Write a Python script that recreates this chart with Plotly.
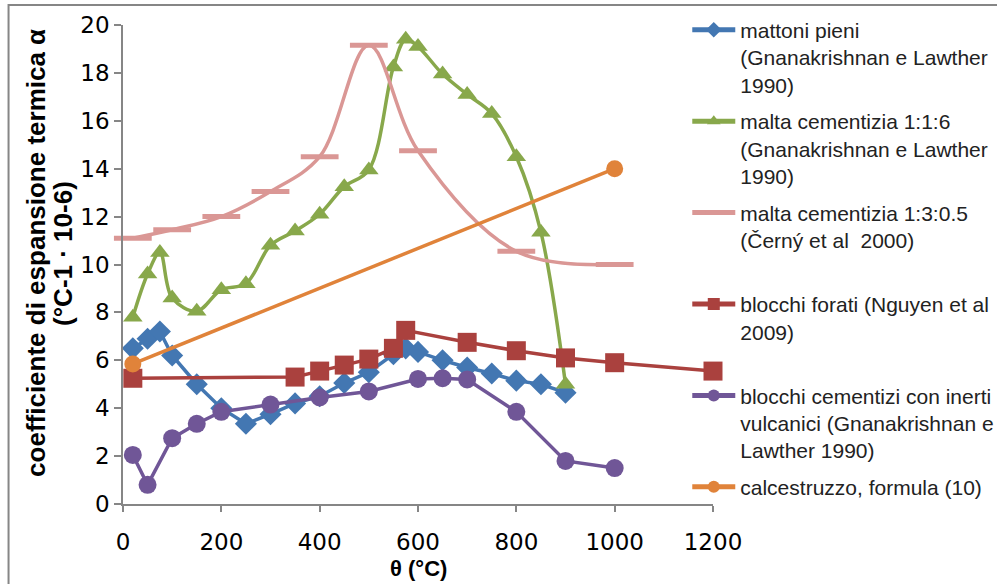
import plotly.graph_objects as go

# Temperature θ (°C) and thermal expansion coefficient α (°C-1 · 10-6)
mattoni_t = [20, 50, 75, 100, 150, 200, 250, 300, 350, 400, 450, 500, 550, 575,
             600, 650, 700, 750, 800, 850, 900]
mattoni_a = [6.5, 6.9, 7.2, 6.2, 5.0, 4.0, 3.35, 3.75, 4.2, 4.5, 5.05, 5.5, 6.25, 6.5,
             6.35, 6.0, 5.7, 5.45, 5.15, 5.0, 4.65]

malta116_t = [20, 50, 75, 100, 150, 200, 250, 300, 350, 400, 450, 500, 550, 575,
              600, 650, 700, 750, 800, 850, 900]
malta116_a = [7.8, 9.6, 10.5, 8.6, 8.05, 8.95, 9.2, 10.8, 11.4, 12.1, 13.25, 13.95, 18.25, 19.4,
              19.1, 17.95, 17.1, 16.3, 14.5, 11.35, 5.0]

malta135_t = [20, 100, 200, 300, 400, 500, 600, 800, 1000]
malta135_a = [11.1, 11.45, 12.0, 13.05, 14.5, 19.15, 14.75, 10.55, 10.0]

forati_t = [20, 350, 400, 450, 500, 550, 575, 700, 800, 900, 1000, 1200]
forati_a = [5.25, 5.3, 5.55, 5.8, 6.05, 6.5, 7.25, 6.75, 6.4, 6.1, 5.9, 5.55]

cementizi_t = [20, 50, 100, 150, 200, 300, 400, 500, 600, 650, 700, 800, 900, 1000]
cementizi_a = [2.05, 0.8, 2.75, 3.35, 3.85, 4.15, 4.45, 4.7, 5.22, 5.25, 5.2, 3.85, 1.8, 1.5]

cls_t = [20, 1000]
cls_a = [5.85, 14.0]

labels = [
    "mattoni pieni<br>(Gnanakrishnan e Lawther<br>1990)",
    "malta cementizia 1:1:6<br>(Gnanakrishnan e Lawther<br>1990)",
    "malta cementizia 1:3:0.5<br>(Černý et al  2000)<br> ",
    "blocchi forati (Nguyen et al<br>2009)<br> ",
    "blocchi cementizi con inerti<br>vulcanici (Gnanakrishnan e<br>Lawther 1990)",
    "calcestruzzo, formula (10)",
]

FONT = "Liberation Sans, Arial, sans-serif"
TICK_FONT = "DejaVu Sans, sans-serif"
AXIS_GRAY = "#868686"

fig = go.Figure()

series = [
    (mattoni_t, mattoni_a, "#4377B2", "diamond", 17, "linear"),
    (malta116_t, malta116_a, "#88A84B", "triangle-up", 17, "spline"),
    (malta135_t, malta135_a, "#DA9795", "line-ew", 27, "spline"),
    (forati_t, forati_a, "#AA413E", "square", 19, "linear"),
    (cementizi_t, cementizi_a, "#705697", "circle", 18, "linear"),
    (cls_t, cls_a, "#E0833A", "circle", 17, "linear"),
]

for i, (t, a, color, symbol, size, shape) in enumerate(series):
    marker = dict(color=color, symbol=symbol, size=size, line=dict(width=0, color=color))
    if symbol == "line-ew":
        marker["line"] = dict(width=5, color=color)
    fig.add_trace(go.Scatter(
        x=t, y=a, mode="lines+markers", name=labels[i],
        legendgroup=f"g{i}", cliponaxis=False,
        line=dict(color=color, width=3.5, shape=shape, smoothing=1),
        marker=marker,
    ))

fig.update_layout(
    width=997, height=584,
    margin=dict(l=123, r=284, t=25, b=80, autoexpand=False),
    paper_bgcolor="white", plot_bgcolor="white",
    font=dict(family=FONT, color="black"),
    showlegend=True,
    legend=dict(
        x=0.9564, xanchor="left", y=1.032, yanchor="top",
        font=dict(family=FONT, size=21, color="#222222"),
        valign="top", itemsizing="constant", itemwidth=43,
        tracegroupgap=6.5, bgcolor="rgba(0,0,0,0)", maxheight=700,
    ),
    xaxis=dict(
        range=[0, 1200], tickvals=[0, 200, 400, 600, 800, 1000, 1200],
        showgrid=False, zeroline=False, showline=True, linecolor=AXIS_GRAY, linewidth=1.5,
        ticks="outside", ticklen=6, tickcolor=AXIS_GRAY, tickwidth=1.5,
        tickfont=dict(family=TICK_FONT, size=23, color="black"),
        ticklabelstandoff=11,
    ),
    yaxis=dict(
        range=[0, 20], tickvals=list(range(0, 21, 2)),
        showgrid=False, zeroline=False, showline=True, linecolor=AXIS_GRAY, linewidth=1.5,
        ticks="outside", ticklen=7, tickcolor=AXIS_GRAY, tickwidth=1.5,
        tickfont=dict(family=TICK_FONT, size=23, color="black"),
        ticklabelstandoff=0,
    ),
    annotations=[
        dict(text="<b>coefficiente di espansione termica α</b>",
             xref="paper", yref="paper", x=(36 - 123) / 589.4, y=0.524,
             xanchor="center", yanchor="middle", textangle=-90, showarrow=False,
             font=dict(family=FONT, size=26, color="black")),
        dict(text="<b>(°C-1 · 10-6)</b>",
             xref="paper", yref="paper", x=(63 - 123) / 589.4, y=0.524,
             xanchor="center", yanchor="middle", textangle=-90, showarrow=False,
             font=dict(family=FONT, size=26, color="black")),
        dict(text="<b>θ (°C)</b>", xref="paper", yref="paper", x=0.5, y=-0.135,
             xanchor="center", yanchor="middle", showarrow=False,
             font=dict(family=FONT, size=22, color="black")),
    ],
    shapes=[
        dict(type="rect", xref="paper", yref="paper",
             x0=-0.194, x1=1.49, y0=-0.18, y1=1.0418,
             line=dict(color=AXIS_GRAY, width=2), fillcolor="rgba(0,0,0,0)", layer="below"),
    ],
)

fig.write_html("out.html")
